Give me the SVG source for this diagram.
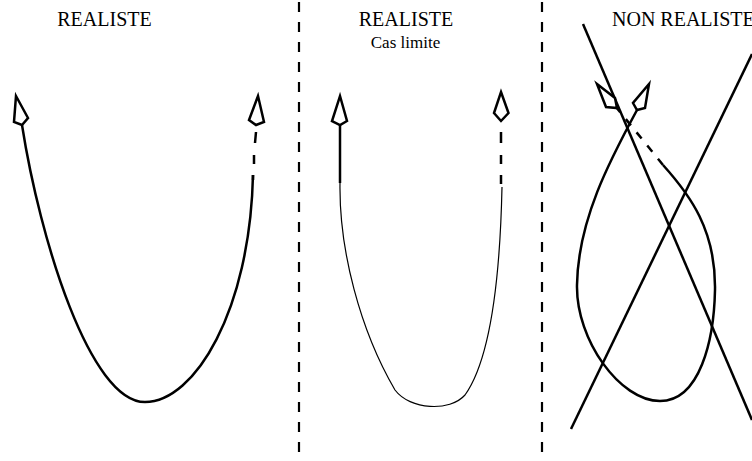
<svg xmlns="http://www.w3.org/2000/svg" width="752" height="461" viewBox="0 0 752 461">
<style>
.t{font-family:"Liberation Serif","Times New Roman",serif;fill:#000}
.c{fill:none;stroke:#000;stroke-width:2.5;stroke-linejoin:round}
.thin{fill:none;stroke:#000;stroke-width:1.2}
.head{fill:#fff;stroke:#000;stroke-width:2.5;stroke-linejoin:miter}
.div{stroke:#000;stroke-width:2.2;stroke-dasharray:10 10}
</style>
<rect width="752" height="461" fill="#fff"/>
<g id="dividers">
<line class="div" x1="299" y1="2" x2="299" y2="461"/>
<line class="div" x1="542" y1="2" x2="542" y2="461"/>
</g>
<g id="panel1">
<text class="t" x="104.5" y="26" font-size="20" text-anchor="middle">REALISTE</text>
<path class="c" d="M22,125 C40,240 90,402 145,402 C195,402 250,310 253,175"/>
<path class="c" d="M256,132 L255,143 M254,155 L254,164 M253,175 L253,180"/>
<polygon class="head" points="16,96 28,118 22,125 14,122"/>
<polygon class="head" points="258,96 264,122 256,125 249,120"/>
</g>
<g id="panel2">
<text class="t" x="406" y="26" font-size="20" text-anchor="middle">REALISTE</text>
<text class="t" x="405.5" y="47.5" font-size="17" text-anchor="middle">Cas limite</text>
<path class="thin" d="M340,183 C339,250 360,330 395,390 C410,410 450,412 465,395 C490,360 500,280 502,187"/>
<path class="c" d="M340,125 L340,183"/>
<path class="c" d="M501,132 L501,143 M501,155 L501,164 M501,175 L501,184"/>
<polygon class="head" points="340,96 347,121 340,125 332,121"/>
<polygon class="head" points="501,92 508.5,113 501,121 494,113"/>
</g>
<g id="panel3">
<text class="t" x="612" y="26" font-size="20">NON REALISTE</text>
<line class="c" x1="583" y1="24" x2="752" y2="420"/>
<line class="c" x1="571" y1="429" x2="752" y2="54"/>
<path class="c" d="M637,110 C610,160 578,220 577,285 C576,340 620,401 660,401 C700,401 714,340 715,290 C716,230 690,195 663,165"/>
<path class="c" d="M663,165 L616,107" stroke-dasharray="8 9"/>
<polygon class="head" points="597,84 615,98 617,108 606,107"/>
<polygon class="head" points="649,84 645,108 637,110 633,103"/>
</g>
</svg>
